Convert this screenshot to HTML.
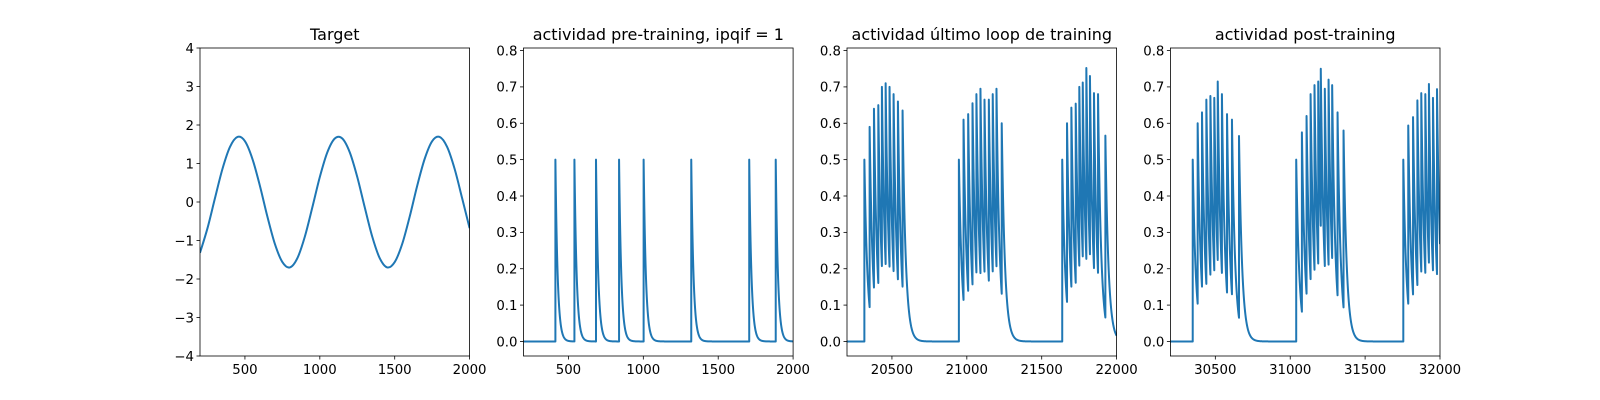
<!DOCTYPE html>
<html><head><meta charset="utf-8"><style>
html,body{margin:0;padding:0;background:#fff;}
svg{display:block;font-family:"DejaVu Sans","Liberation Sans",sans-serif;}
</style></head><body>
<svg id="fig" width="1600" height="400" viewBox="0 0 1600 400" xmlns="http://www.w3.org/2000/svg"></svg>
<script>
// ---- data ----
const targetX = [200,250,300,350,400,450,500,550,600,650,700,750,800,850,900,950,1000,1050,1100,1150,1200,1250,1300,1350,1400,1450,1500,1550,1600,1650,1700,1750,1800,1850,1900,1950,2000];
const targetY = [-1.32,-0.68,0.10,0.86,1.43,1.69,1.58,1.12,0.42,-0.38,-1.09,-1.56,-1.70,-1.46,-0.90,-0.14,0.65,1.29,1.65,1.65,1.29,0.65,-0.14,-0.90,-1.46,-1.70,-1.56,-1.09,-0.38,0.42,1.12,1.58,1.69,1.43,0.86,0.10,-0.68];

const preSpikes = [413,540,684,838,1002,1320,1707,1884];
const prePeaks  = [0.5,0.5,0.5,0.5,0.5,0.5,0.5,0.5];

const lastSpikes = [20316,20351,20380,20409,20433,20458,20484,20511,20540,20571,
  20947,20978,21009,21038,21064,21091,21118,21147,21173,21198,21233,
  21637,21669,21698,21727,21751,21774,21798,21822,21849,21876,21925];
const lastPeaks = [0.50,0.59,0.64,0.65,0.70,0.71,0.70,0.68,0.66,0.635,
  0.50,0.61,0.625,0.655,0.68,0.695,0.665,0.665,0.68,0.695,0.60,
  0.50,0.60,0.643,0.654,0.70,0.712,0.752,0.73,0.683,0.68,0.566];

const postSpikes = [30349,30382,30411,30440,30467,30493,30516,30544,30578,30611,30658,
  31040,31078,31109,31136,31162,31187,31204,31231,31256,31280,31316,31356,
  31755,31788,31820,31849,31875,31902,31926,31953,31980];
const postPeaks = [0.50,0.60,0.63,0.665,0.675,0.67,0.715,0.68,0.625,0.61,0.565,
  0.50,0.575,0.62,0.68,0.705,0.715,0.75,0.695,0.72,0.705,0.63,0.58,
  0.50,0.594,0.617,0.663,0.683,0.68,0.708,0.67,0.694];

const xTicks1 = [500,1000,1500,2000];
const xTicks3 = [20500,21000,21500,22000];
const xTicks4 = [30500,31000,31500,32000];
const yTicks1 = [-4,-3,-2,-1,0,1,2,3,4];
const yTicksAct = [0.0,0.1,0.2,0.3,0.4,0.5,0.6,0.7,0.8];

// ---- drawing ----
const NS = "http://www.w3.org/2000/svg";
const fig = document.getElementById('fig');
function mk(tag, attrs, parent){
  const e = document.createElementNS(NS, tag);
  for (const k in attrs) e.setAttribute(k, attrs[k]);
  (parent||fig).appendChild(e);
  return e;
}
const TOP=48, BOT=356, W=269.6;
const lefts=[200,523.5,847,1170.4];

function trace(spikes, peaks, x0, x1, tau){
  const xs=[], ys=[];
  let j=-1;
  for(let t=x0;t<=x1;t+=1){
    while(j+1<spikes.length && spikes[j+1]<=t){
      j++;
      const prev = j>0 ? peaks[j-1]*Math.exp(-(spikes[j]-spikes[j-1])/tau) : 0;
      xs.push(spikes[j]); ys.push(prev);
      xs.push(spikes[j]); ys.push(peaks[j]);
    }
    xs.push(t);
    ys.push(j<0?0:peaks[j]*Math.exp(-(t-spikes[j])/tau));
  }
  return [xs,ys];
}

function panel(i, name, title, xmin, xmax, ymin, ymax, xt, yt, ylab, series, smooth){
  const L=lefts[i], R=L+W;
  const g = mk('g',{});
  
  
  const sx = v => L + (v-xmin)/(xmax-xmin)*W;
  const sy = v => BOT - (v-ymin)/(ymax-ymin)*(BOT-TOP);
  const clipId='clip'+i;
  const cp = mk('clipPath',{id:clipId},g);
  mk('rect',{x:L,y:TOP,width:W,height:BOT-TOP},cp);
  const [xs,ys]=series;
  let d='';
  if(smooth){
    const P=xs.map((x,k)=>[sx(x),sy(ys[k])]);
    d='M'+P[0][0].toFixed(2)+','+P[0][1].toFixed(2);
    for(let k=0;k<P.length-1;k++){
      const p0=P[Math.max(0,k-1)],p1=P[k],p2=P[k+1],p3=P[Math.min(P.length-1,k+2)];
      const c1=[p1[0]+(p2[0]-p0[0])/6,p1[1]+(p2[1]-p0[1])/6];
      const c2=[p2[0]-(p3[0]-p1[0])/6,p2[1]-(p3[1]-p1[1])/6];
      d+='C'+c1[0].toFixed(2)+','+c1[1].toFixed(2)+' '+c2[0].toFixed(2)+','+c2[1].toFixed(2)+' '+p2[0].toFixed(2)+','+p2[1].toFixed(2);
    }
  } else {
    d = xs.map((x,k)=>(k?'L':'M')+sx(x).toFixed(2)+','+sy(ys[k]).toFixed(2)).join('');
  }
  const line = mk('path',{d:d,fill:'none',stroke:'#1f77b4','stroke-width':2,'stroke-linejoin':'round','clip-path':'url(#'+clipId+')'},g);
  
  
  const fr = mk('rect',{x:L,y:TOP,width:W,height:BOT-TOP,fill:'none',stroke:'#000','stroke-width':0.8},g);
  
  
  xt.forEach(v=>{
    const x=sx(v);
    mk('line',{x1:x,y1:BOT,x2:x,y2:BOT+3.5,stroke:'#000','stroke-width':0.8},g);
    const t=mk('text',{x:x,y:BOT+18,'font-size':13.3,'text-anchor':'middle',fill:'#000'},g);
    t.textContent=String(v);
    
    
  });
  yt.forEach((v,k)=>{
    const y=sy(v);
    mk('line',{x1:L-3.5,y1:y,x2:L,y2:y,stroke:'#000','stroke-width':0.8},g);
    const t=mk('text',{x:L-6,y:y+4.8,'font-size':13.3,'text-anchor':'end',fill:'#000'},g);
    t.textContent=ylab(v);
    
    
  });
  const tt=mk('text',{x:L+W/2,y:TOP-8,'font-size':16,'text-anchor':'middle',fill:'#000'},g);
  tt.textContent=title;
  
  
}
const fmtInt=v=>(v<0?'\u2212'+Math.abs(v):String(v));
const fmt1=v=>v.toFixed(1);
const YMIN=-0.04, YMAX=0.807;
panel(0,'target-panel','Target',200,2000,-4,4,xTicks1,yTicks1,fmtInt,[targetX,targetY],true);
panel(1,'pre-training-panel','actividad pre-training, ipqif = 1',200,2000,YMIN,YMAX,xTicks1,yTicksAct,fmt1,trace(preSpikes,prePeaks,200,2000,15),false);
panel(2,'last-loop-panel','actividad último loop de training',20200,22000,YMIN,YMAX,xTicks3,yTicksAct,fmt1,trace(lastSpikes,lastPeaks,20200,22000,21),false);
panel(3,'post-training-panel','actividad post-training',30200,32000,YMIN,YMAX,xTicks4,yTicksAct,fmt1,trace(postSpikes,postPeaks,30200,32000,21),false);
</script>
</body></html>
